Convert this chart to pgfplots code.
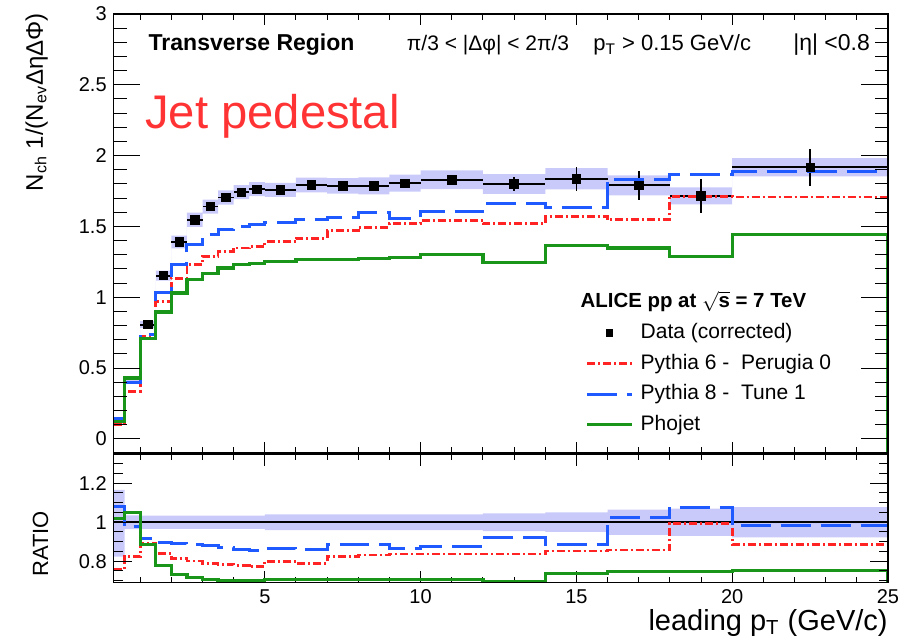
\documentclass[border=0pt]{standalone}
\usepackage{fontspec}
\setmainfont{Liberation Sans}
\usepackage{pgfplots}
\pgfplotsset{compat=1.18}
\usepackage{pgfplotstable}
\usepgfplotslibrary{fillbetween}

\definecolor{bandc}{RGB}{202,202,250}
\definecolor{pyblue}{RGB}{30,90,255}
\definecolor{pyred}{RGB}{255,35,35}
\definecolor{phgreen}{RGB}{25,150,25}
\definecolor{jetred}{RGB}{255,51,51}

% low bin edge, data, syst, Pythia6, Pythia8, Phojet (last row repeats last bin)
\pgfplotstableread{
edge  d      s      r      b      g
0.15  0.125  0.020  0.101  0.141  0.120
0.5   0.410  0.015  0.336  0.400  0.430
1     0.806  0.025  0.720  0.740  0.710
1.5   1.152  0.035  0.970  1.030  0.896
2     1.390  0.045  1.135  1.234  1.030
2.5   1.547  0.050  1.229  1.370  1.123
3     1.640  0.050  1.288  1.440  1.170
3.5   1.704  0.050  1.323  1.476  1.206
4     1.742  0.050  1.347  1.500  1.229
4.5   1.763  0.050  1.358  1.510  1.240
5     1.758  0.050  1.394  1.527  1.250
6     1.793  0.052  1.417  1.546  1.264
7     1.786  0.055  1.470  1.565  1.266
8     1.786  0.060  1.495  1.600  1.271
9     1.805  0.060  1.518  1.559  1.283
10    1.829  0.066  1.542  1.605  1.300
12    1.800  0.070  1.518  1.664  1.245
14    1.836  0.075  1.570  1.636  1.365
16    1.790  0.070  1.546  1.834  1.347
18    1.716  0.060  1.711  1.864  1.288
20    1.918  0.065  1.707  1.887  1.441
25    1.918  0.065  1.707  1.887  1.441
}\spectra

% data points at bin centres
\pgfplotstableread{
x     y      ex    ey
1.25  0.806  0.25  0.01
1.75  1.152  0.25  0.01
2.25  1.390  0.25  0.01
2.75  1.547  0.25  0.01
3.25  1.640  0.25  0.01
3.75  1.704  0.25  0.01
4.25  1.742  0.25  0.01
4.75  1.763  0.25  0.01
5.5   1.758  0.5   0.012
6.5   1.793  0.5   0.015
7.5   1.786  0.5   0.018
8.5   1.786  0.5   0.022
9.5   1.805  0.5   0.03
11    1.829  1     0.035
13    1.800  1     0.05
15    1.836  1     0.085
17    1.790  1     0.10
19    1.716  1     0.12
22.5  1.918  2.5   0.13
}\points

% ratios to data and relative data band
\pgfplotstableread{
edge  rr     rb     rg     hi     lo
0.15  0.759  1.080  1.020  1.166  0.824
0.5   0.824  0.977  1.050  1.035  0.965
1     0.892  0.918  0.884  1.034  0.966
1.5   0.841  0.897  0.780  1.034  0.966
2     0.815  0.892  0.733  1.034  0.966
2.5   0.801  0.887  0.716  1.034  0.966
3     0.790  0.880  0.705  1.034  0.966
3.5   0.785  0.870  0.702  1.034  0.966
4     0.778  0.858  0.702  1.034  0.966
4.5   0.772  0.853  0.702  1.034  0.966
5     0.800  0.867  0.705  1.040  0.960
6     0.790  0.858  0.705  1.040  0.960
7     0.824  0.884  0.705  1.040  0.960
8     0.832  0.887  0.705  1.040  0.960
9     0.837  0.863  0.705  1.040  0.960
10    0.837  0.875  0.705  1.040  0.960
12    0.837  0.921  0.695  1.045  0.955
14    0.853  0.887  0.738  1.050  0.950
16    0.858  1.024  0.747  1.065  0.935
18    0.995  1.077  0.747  1.070  0.930
20    0.887  0.983  0.752  1.077  0.923
25    0.887  0.983  0.752  1.077  0.923
}\ratios

\pgfplotsset{
  panel/.style={scale only axis, width=387.15pt, xmin=0.15, xmax=25,
    axis line style={line width=0.75pt},
    every tick/.style={black, line width=0.5pt},
    tick align=inside, xtick pos=both, ytick pos=both,
    /pgf/number format/assume math mode=true,
    tick label style={font=\fontsize{10}{12}\selectfont}},
  redline/.style={pyred, line width=1.4pt, dash pattern=on 4pt off 1.5pt on 1pt off 1.5pt},
  blueline/.style={pyblue, line width=1.5pt, dash pattern=on 15pt off 5pt},
  greenline/.style={phgreen, line width=1.6pt},
  datamark/.style={black, only marks, mark=square*, mark size=1.6pt,
    legend image code/.code={\draw[##1] plot coordinates {(11.25pt,0pt)};}},
}

\begin{document}
\begin{tikzpicture}
% ---- top panel
\begin{axis}[panel, name=top, at={(0,0)}, anchor=north west,
  height=219.5pt, ymin=-0.1, ymax=3,
  xtick={5,10,15,20,25}, xticklabels={},
  minor xtick={1,2,3,4,6,7,8,9,11,12,13,14,16,17,18,19,21,22,23,24},
  ytick=\empty, major tick length=5.5pt, minor tick length=3pt,
  legend style={at={(axis cs:15.28,1.04)}, anchor=north west, draw=none, fill=none,
    inner sep=0pt, font=\fontsize{10.5}{12}\selectfont, row sep=4.8pt,
    nodes={inner sep=0pt, text height=8pt, text depth=2.5pt},
    /tikz/every odd column/.append style={column sep=3.5pt}},
  legend cell align=left,
  legend image code/.code={\draw[#1] (0pt,0pt) -- (22.5pt,0pt);},
]
\addplot[name path=hi, draw=none, const plot, forget plot] table[x=edge, y expr=\thisrow{d}+\thisrow{s}] {\spectra};
\addplot[name path=lo, draw=none, const plot, forget plot] table[x=edge, y expr=\thisrow{d}-\thisrow{s}] {\spectra};
\addplot[bandc, forget plot] fill between[of=hi and lo];
\addplot[black, only marks, mark=square*, mark size=2.1pt, forget plot,
  error bars/.cd, x dir=both, x explicit, y dir=both, y explicit,
  error bar style={line width=0.9pt}, error mark=none]
  table[x=x, y=y, x error=ex, y error=ey] {\points};
\addplot[redline, const plot, forget plot] table[x=edge, y=r] {\spectra};
\addplot[redline, forget plot] coordinates {(25,1.707) (25,-0.1)};
\addplot[blueline, const plot, forget plot] table[x=edge, y=b] {\spectra};
\addplot[blueline, forget plot] coordinates {(25,1.887) (25,-0.1)};
\addplot[greenline, const plot, forget plot] table[x=edge, y=g] {\spectra};
\addplot[greenline, forget plot] coordinates {(25,1.441) (25,-0.1)};

\addlegendimage{empty legend}
\addlegendentry{\hspace{-30pt}\textbf{\fontsize{10.2}{12}\selectfont ALICE pp at \ensuremath{\sqrt{\mbox{\bfseries s}}} = 7 TeV}}
\addlegendimage{datamark}
\addlegendentry{Data (corrected)}
\addlegendimage{redline}
\addlegendentry{Pythia 6 -\ \ Perugia 0}
\addlegendimage{blueline}
\addlegendentry{Pythia 8 -\ \ Tune 1}
\addlegendimage{greenline}
\addlegendentry{Phojet}

\node[anchor=base west, inner sep=0, font=\bfseries\fontsize{11.5}{13}\selectfont] at (axis cs:1.26,2.74) {Transverse Region};
\node[anchor=base west, inner sep=0, font=\fontsize{10.5}{12}\selectfont] at (axis cs:9.55,2.74) {π/3 < |Δφ| < 2π/3};
\node[anchor=base west, inner sep=0, font=\fontsize{11}{13}\selectfont] at (axis cs:15.53,2.74) {p\textsubscript{T} > 0.15 GeV/c};
\node[anchor=base west, inner sep=0, font=\fontsize{11.5}{13}\selectfont] at (axis cs:21.95,2.74) {|η| <0.8};
\node[anchor=base west, inner sep=0, text=jetred, font=\fontsize{23.6}{28}\selectfont] at (axis cs:1.15,2.19) {Jet pedestal};
\end{axis}
\begin{axis}[panel, at={(0,0)}, anchor=north west,
  height=219.5pt, ymin=-0.1, ymax=3, xtick=\empty,
  ytick={0,0.5,1,1.5,2,2.5,3}, minor y tick num=4,
  major tick length=13.3pt, minor tick length=6.5pt]
\end{axis}

% ---- ratio panel
\begin{axis}[panel, name=bot, at={(top.south west)}, anchor=north west, yshift=-0.5pt,
  height=64.35pt, ymin=0.69, ymax=1.35,
  xtick={5,10,15,20,25},
  minor xtick={1,2,3,4,6,7,8,9,11,12,13,14,16,17,18,19,21,22,23,24},
  ytick=\empty, major tick length=6pt, minor tick length=3pt]
\addplot[name path=rhi, draw=none, const plot] table[x=edge, y=hi] {\ratios};
\addplot[name path=rlo, draw=none, const plot] table[x=edge, y=lo] {\ratios};
\addplot[bandc] fill between[of=rhi and rlo];
\addplot[black, line width=0.9pt] coordinates {(0.15,1) (25,1)};
\addplot[redline, const plot] table[x=edge, y=rr] {\ratios};
\addplot[redline] coordinates {(25,0.887) (25,0.69)};
\addplot[blueline, const plot] table[x=edge, y=rb] {\ratios};
\addplot[blueline] coordinates {(25,0.983) (25,0.69)};
\addplot[greenline, const plot] table[x=edge, y=rg] {\ratios};
\addplot[greenline] coordinates {(25,0.752) (25,0.69)};
\end{axis}
\begin{axis}[panel, at={(top.south west)}, anchor=north west, yshift=-0.5pt,
  height=64.35pt, ymin=0.69, ymax=1.35, xtick=\empty,
  ytick={0.8,1,1.2}, minor ytick={0.7,0.75,0.85,0.9,0.95,1.05,1.1,1.15,1.25,1.3},
  major tick length=9pt, minor tick length=4.5pt]
\end{axis}

% axis titles
\node[rotate=90, anchor=north east, inner sep=0, font=\fontsize{12}{14}\selectfont]
  at ([xshift=-44.3pt, yshift=0.5pt]top.north west) {N\textsubscript{ch} 1/(N\textsubscript{ev}ΔηΔΦ)};
\node[rotate=90, inner sep=0, font=\fontsize{11}{13}\selectfont]
  at ([xshift=-36.6pt, yshift=-13.3pt]bot.west) {RATIO};
\node[anchor=north east, inner sep=0, font=\fontsize{14.5}{17}\selectfont]
  at ([yshift=-13.5pt]bot.south east) {leading p\textsubscript{T} (GeV/c)};

\pgfresetboundingbox
\useasboundingbox (-56.85pt,7pt) rectangle (401.15pt,-313.5pt);
\end{tikzpicture}
\end{document}
